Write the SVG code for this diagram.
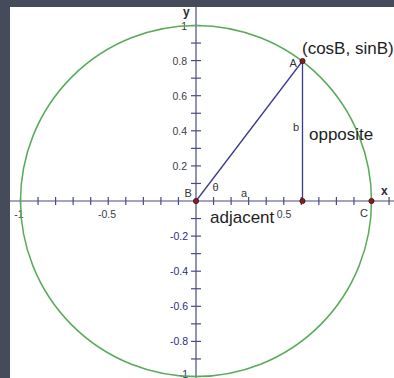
<svg xmlns="http://www.w3.org/2000/svg" width="394" height="378" viewBox="0 0 394 378">
  <style>
    .axis { stroke: #4a4a86; stroke-width: 1.2; fill: none; }
    .tick { stroke: #4a4a86; stroke-width: 1.2; }
    .seg { stroke: #3b3b8c; stroke-width: 1.3; fill: none; }
    .pt { fill: #8a1c1c; stroke: #3a0f0f; stroke-width: 0.8; }
    .tl { font-family: "Liberation Sans", Arial, sans-serif; font-size: 10.5px; fill: #3c3c44; }
    .tn { font-family: "Liberation Sans", Arial, sans-serif; font-size: 10.5px; fill: #2b2b7c; }
    .lbl { font-family: "Liberation Sans", Arial, sans-serif; font-size: 11px; fill: #333333; }
    .big { font-family: "Liberation Sans", Arial, sans-serif; font-size: 17px; fill: #1e1e1e; }
    .ax { font-family: "Liberation Sans", Arial, sans-serif; font-size: 12px; font-weight: bold; fill: #2a2a3a; }
  </style>
  <rect x="0" y="0" width="394" height="378" fill="#464b5c"/>
  <rect x="10" y="7" width="384" height="371" fill="#ffffff"/>

  <g id="axes">
    <line class="axis" x1="10" y1="201" x2="394" y2="201"/>
    <line class="axis" x1="196" y1="7" x2="196" y2="378"/>
    <g id="xticks">
      <line class="tick" x1="20.5" y1="197" x2="20.5" y2="205"/>
      <line class="tick" x1="38.05" y1="197" x2="38.05" y2="205"/>
      <line class="tick" x1="55.6" y1="197" x2="55.6" y2="205"/>
      <line class="tick" x1="73.15" y1="197" x2="73.15" y2="205"/>
      <line class="tick" x1="90.7" y1="197" x2="90.7" y2="205"/>
      <line class="tick" x1="108.25" y1="197" x2="108.25" y2="205"/>
      <line class="tick" x1="125.8" y1="197" x2="125.8" y2="205"/>
      <line class="tick" x1="143.35" y1="197" x2="143.35" y2="205"/>
      <line class="tick" x1="160.9" y1="197" x2="160.9" y2="205"/>
      <line class="tick" x1="178.45" y1="197" x2="178.45" y2="205"/>
      <line class="tick" x1="213.55" y1="197" x2="213.55" y2="205"/>
      <line class="tick" x1="231.1" y1="197" x2="231.1" y2="205"/>
      <line class="tick" x1="248.65" y1="197" x2="248.65" y2="205"/>
      <line class="tick" x1="266.2" y1="197" x2="266.2" y2="205"/>
      <line class="tick" x1="283.75" y1="197" x2="283.75" y2="205"/>
      <line class="tick" x1="301.3" y1="197" x2="301.3" y2="205"/>
      <line class="tick" x1="318.85" y1="197" x2="318.85" y2="205"/>
      <line class="tick" x1="336.4" y1="197" x2="336.4" y2="205"/>
      <line class="tick" x1="353.95" y1="197" x2="353.95" y2="205"/>
      <line class="tick" x1="371.5" y1="197" x2="371.5" y2="205"/>
      <line class="tick" x1="389.05" y1="197" x2="389.05" y2="205"/>
    </g>
    <g id="yticks">
      <line class="tick" x1="191" y1="25.5" x2="201" y2="25.5"/>
      <line class="tick" x1="191" y1="43.05" x2="201" y2="43.05"/>
      <line class="tick" x1="191" y1="60.6" x2="201" y2="60.6"/>
      <line class="tick" x1="191" y1="78.15" x2="201" y2="78.15"/>
      <line class="tick" x1="191" y1="95.7" x2="201" y2="95.7"/>
      <line class="tick" x1="191" y1="113.25" x2="201" y2="113.25"/>
      <line class="tick" x1="191" y1="130.8" x2="201" y2="130.8"/>
      <line class="tick" x1="191" y1="148.35" x2="201" y2="148.35"/>
      <line class="tick" x1="191" y1="165.9" x2="201" y2="165.9"/>
      <line class="tick" x1="191" y1="183.45" x2="201" y2="183.45"/>
      <line class="tick" x1="191" y1="218.55" x2="201" y2="218.55"/>
      <line class="tick" x1="191" y1="236.1" x2="201" y2="236.1"/>
      <line class="tick" x1="191" y1="253.65" x2="201" y2="253.65"/>
      <line class="tick" x1="191" y1="271.2" x2="201" y2="271.2"/>
      <line class="tick" x1="191" y1="288.75" x2="201" y2="288.75"/>
      <line class="tick" x1="191" y1="306.3" x2="201" y2="306.3"/>
      <line class="tick" x1="191" y1="323.85" x2="201" y2="323.85"/>
      <line class="tick" x1="191" y1="341.4" x2="201" y2="341.4"/>
      <line class="tick" x1="191" y1="358.95" x2="201" y2="358.95"/>
      <line class="tick" x1="191" y1="376.5" x2="201" y2="376.5"/>
    </g>
    <g id="ticklabels">
      <text class="tl" x="187" y="29.5" text-anchor="end">1</text>
      <text class="tl" x="187" y="64.6" text-anchor="end">0.8</text>
      <text class="tl" x="187" y="99.7" text-anchor="end">0.6</text>
      <text class="tl" x="187" y="134.8" text-anchor="end">0.4</text>
      <text class="tl" x="187" y="169.9" text-anchor="end">0.2</text>
      <text class="tn" x="188" y="240.1" text-anchor="end">-0.2</text>
      <text class="tn" x="188" y="275.2" text-anchor="end">-0.4</text>
      <text class="tn" x="188" y="310.3" text-anchor="end">-0.6</text>
      <text class="tn" x="188" y="345.4" text-anchor="end">-0.8</text>
      <text class="tn" x="188" y="377.5" text-anchor="end">-1</text>
      <text class="tl" x="19" y="218" text-anchor="middle">-1</text>
      <text class="tl" x="107" y="218" text-anchor="middle">-0.5</text>
      <text class="tl" x="284" y="218" text-anchor="middle">0.5</text>
    </g>
    <text class="ax" x="183" y="16">y</text>
    <text class="ax" x="381" y="195">x</text>
  </g>

  <g id="unit-circle">
    <circle cx="196" cy="201" r="175.5" fill="none" stroke="#5aaa5a" stroke-width="1.5"/>
  </g>

  <g id="connectors">
    <line id="hyp" class="seg" x1="196" y1="201" x2="302.5" y2="61"/>
    <line id="opp" class="seg" x1="302.5" y1="61" x2="302.5" y2="201"/>
  </g>

  <g id="node-B"><circle class="pt" cx="196" cy="201" r="2.6"/><text class="lbl" x="184.5" y="197">B</text></g>
  <g id="node-A"><circle class="pt" cx="302.5" cy="61" r="2.6"/><text class="lbl" x="289.5" y="67">A</text></g>
  <g id="node-D"><circle class="pt" cx="302.5" cy="201" r="2.6"/></g>
  <g id="node-C"><circle class="pt" cx="371.5" cy="201" r="2.6"/><text class="lbl" x="360" y="217">C</text></g>

  <g id="labels">
    <text class="lbl" x="212.5" y="191">θ</text>
    <text class="lbl" x="241" y="197">a</text>
    <text class="lbl" x="293" y="131">b</text>
    <text class="big" x="210" y="223">adjacent</text>
    <text class="big" x="309" y="139.5">opposite</text>
    <text class="big" x="302" y="53.5">(cosB, sinB)</text>
  </g>
</svg>
